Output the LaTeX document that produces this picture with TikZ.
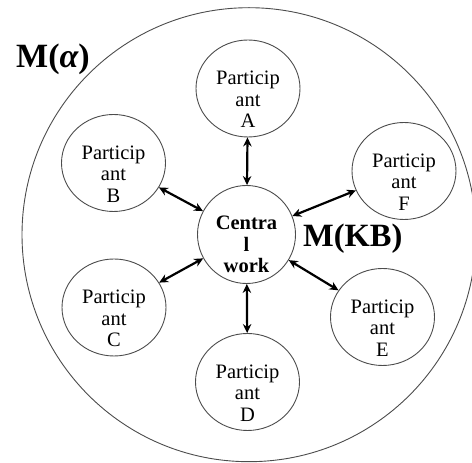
\documentclass[tikz,border=0pt]{standalone}
\usepackage{fontspec}
\setmainfont{Liberation Serif}
\usetikzlibrary{shapes.geometric,arrows.meta}

\tikzset{
  ring/.style={draw=black!70, line width=0.9pt},
  partbox/.style={ring, ellipse, minimum width=104pt, minimum height=97pt, inner sep=0pt},
  hubbox/.style={ring, circle, minimum size=98pt, inner sep=0pt},
  ptext/.style={align=center, font=\fontsize{20.5}{21.5}\selectfont, yshift=-11pt, inner sep=0pt},
  htext/.style={align=center, font=\fontsize{20.5}{21.5}\selectfont\bfseries, yshift=-10pt, inner sep=0pt},
  bigtag/.style={inner sep=0pt, anchor=base west},
  link/.style={line width=2.2pt, {Stealth[length=9pt,width=8.5pt]}-{Stealth[length=9pt,width=8.5pt]}}
}

\begin{document}
\begin{tikzpicture}[x=1pt,y=1pt]
  \useasboundingbox (0,0) rectangle (472,463);

  % outer domain M(alpha)
  \draw[ring] (249,228.3) circle (227);

  % hub and participants
  \node[hubbox, label={[htext]center:Centra\\l\\work}] (hub) at (246.5,228.5) {};
  \node[partbox, label={[ptext]center:Particip\\ant\\A}] (pA) at (248,374.5) {};
  \node[partbox, label={[ptext]center:Particip\\ant\\B}] (pB) at (113.5,300) {};
  \node[partbox, label={[ptext]center:Particip\\ant\\C}] (pC) at (114,155.5) {};
  \node[partbox, label={[ptext]center:Particip\\ant\\D}] (pD) at (247.5,81) {};
  \node[partbox, label={[ptext]center:Particip\\ant\\E}] (pE) at (382.5,146) {};
  \node[partbox, label={[ptext]center:Particip\\ant\\F}] (pF) at (404,292) {};

  % two-way links to the hub
  \foreach \p in {pA,pB,pC,pD,pE,pF}
    \draw[link] (\p) -- (hub);

  % labels
  \node[bigtag, font=\fontsize{34}{36}\selectfont\bfseries] (malpha) at (16,395) {M({\itshape α})};
  \node[bigtag, font=\fontsize{32.5}{35}\selectfont\bfseries] (mkb) at (303,216.3) {M(KB)};
\end{tikzpicture}
\end{document}
